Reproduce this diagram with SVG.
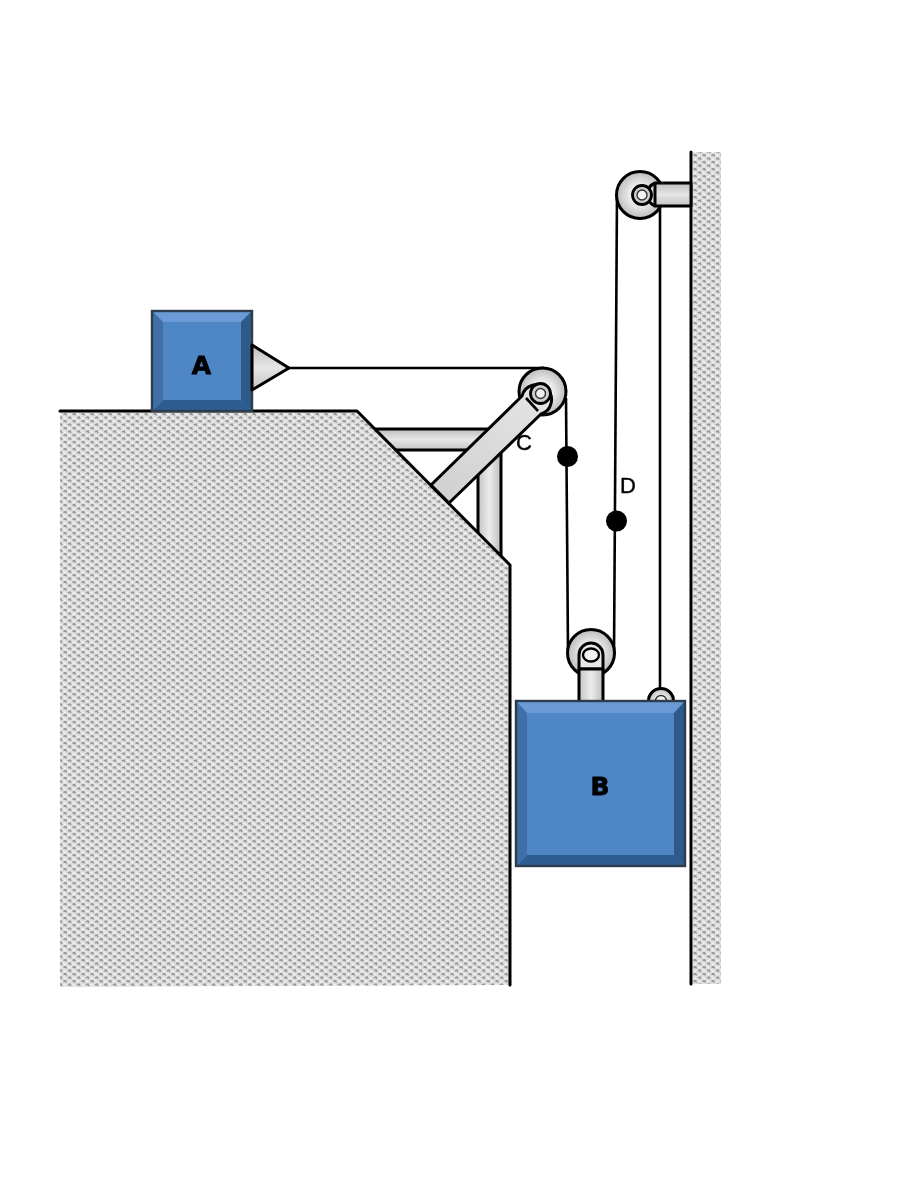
<svg xmlns="http://www.w3.org/2000/svg" width="900" height="1200" viewBox="0 0 900 1200">
<style>
.ln{stroke:#000;stroke-width:3;fill:none;stroke-linecap:round;stroke-linejoin:round}
.rope{stroke:#000;stroke-width:2.6;fill:none}
.part{fill:url(#steel);stroke:#000;stroke-width:3;stroke-linejoin:round}
.wheel{fill:url(#wheelFill);stroke:#000;stroke-width:3}
.arch{fill:#dedede;stroke:#000;stroke-width:3;stroke-linejoin:round}
.hub{fill:#cfcfcf;stroke:#000;stroke-width:2.8}
.pin{fill:#f2f2f2;stroke:#333;stroke-width:1.4}
.dot{fill:#000}
.lbl{font-family:"Liberation Sans",Arial,sans-serif;fill:#000;stroke:#000;stroke-width:0.4;text-anchor:middle}
.blk{font-family:"DejaVu Sans",sans-serif;font-weight:bold;font-size:25px;fill:#000;stroke:#000;stroke-width:0.8;text-anchor:middle}
.soft{filter:url(#soft)}
</style>
<defs>
<filter id="soft" x="-5%" y="-5%" width="110%" height="110%"><feGaussianBlur stdDeviation="0.75"/></filter>
<pattern id="hatch" width="9" height="7" patternUnits="userSpaceOnUse">
<rect width="9" height="7" fill="#dedede"/>
<path d="M0.500 1.500L2.500 0.500L3.500 2.500M5 5L7 4L8 6" stroke="#989898" stroke-width="1.600" fill="none"/>
<path d="M5 1L7.500 2M0.500 4.500L3 5.500" stroke="#f8f8f8" stroke-width="1.300" fill="none"/>
</pattern>
<linearGradient id="steel" x1="0" y1="0" x2="0" y2="1"><stop offset="0" stop-color="#bdbdbd"/><stop offset="0.5" stop-color="#e6e6e6"/><stop offset="1" stop-color="#c4c4c4"/></linearGradient>
<linearGradient id="steelV" x1="0" y1="0" x2="1" y2="0"><stop offset="0" stop-color="#c4c4c4"/><stop offset="0.5" stop-color="#ececec"/><stop offset="1" stop-color="#bdbdbd"/></linearGradient>
<linearGradient id="steelD" x1="0" y1="1" x2="1" y2="0"><stop offset="0" stop-color="#cfcfcf"/><stop offset="1" stop-color="#e6e6e6"/></linearGradient>
<radialGradient id="wheelFill"><stop offset="0.4" stop-color="#f0f0f0"/><stop offset="1" stop-color="#bcbcbc"/></radialGradient>
<clipPath id="aboveB"><rect x="630" y="670" width="60" height="32"/></clipPath>
</defs>
<rect width="900" height="1200" fill="#fff"/>

<g class="soft">
<g id="frame">
<rect x="372" y="429" width="116" height="21" class="part"/>
<rect x="478" y="449" width="23" height="110" class="part" style="fill:url(#steelV)"/>
</g>
<g id="ground">
<path d="M60 411H357L510 565V985L60 987Z" fill="url(#hatch)"/>
<path d="M60 411H357L510 565V985" class="ln"/>
</g>
<g id="wall">
<rect x="693" y="152" width="28" height="832" fill="url(#hatch)"/>
<path d="M691 152V984" class="ln"/>
</g>

<g id="connectors">
<path d="M289 368H544" class="rope"/>
<path d="M566 398L568 650" class="rope"/>
<path d="M614 655L617 195" class="rope"/>
<path d="M660 208V692" class="rope"/>
</g>

<g id="pulley-anchor"><g clip-path="url(#aboveB)">
<circle cx="661" cy="701" r="12.500" class="wheel"/>
<circle cx="661" cy="701" r="5.500" class="pin"/>
</g></g>

<g id="pulley-c">
<circle cx="542.500" cy="391.500" r="23.500" class="wheel"/>
<path d="M522 396L431 485L449 503L541 414A15 15 0 1 0 522 396Z" class="part" style="fill:url(#steelD)"/>
<path d="M526 398L538 411" stroke="#000" stroke-width="2.600"/>
<circle cx="540.500" cy="393.500" r="10" class="hub"/>
<circle cx="540.500" cy="393.500" r="5" class="pin"/>
</g>

<g id="pulley-top">
<circle cx="640" cy="195" r="23.500" class="wheel"/>
<path d="M655 183A12.500 12.500 0 0 0 655 206" class="arch"/>
<path d="M655 183H691V206H655Z" class="part"/>
<circle cx="642" cy="195" r="9.500" class="hub"/>
<circle cx="642" cy="195" r="5" class="pin"/>
</g>

<g id="pulley-b">
<circle cx="591" cy="653" r="23.500" class="wheel"/>
<path d="M579 669V655A12 12 0 0 1 603 655V669Z" class="arch" style="fill:#e8e8e8"/>
<rect x="579" y="669" width="24" height="33" class="part" style="fill:url(#steelV)"/>
<ellipse cx="591" cy="655" rx="8" ry="6.500" class="pin" style="stroke:#000;stroke-width:2.400"/>
</g>

<g id="block-a">
<rect x="152" y="311" width="100" height="100" fill="#4f86c6"/>
<path d="M152 311H252L241 322H163Z" fill="#6a9bd6"/>
<path d="M152 411H252L241 400H163Z" fill="#2f5d92"/>
<path d="M152 311V411L163 400V322Z" fill="#3f6ea6"/>
<path d="M252 311V411L241 400V322Z" fill="#2f5a8a"/>
<rect x="152" y="311" width="100" height="100" fill="none" stroke="#2e3c4e" stroke-width="2.400"/>
<text x="201.500" y="374" class="blk">A</text>
<path d="M252 345L289 368L252 390Z" class="part"/>
</g>

<g id="block-b">
<rect x="516" y="701" width="169" height="165" fill="#4f86c6"/>
<path d="M516 701H685L674 713H527Z" fill="#6a9bd6"/>
<path d="M516 866H685L674 855H527Z" fill="#2f5d92"/>
<path d="M516 701V866L527 855V713Z" fill="#3f6ea6"/>
<path d="M685 701V866L674 855V713Z" fill="#2f5a8a"/>
<rect x="516" y="701" width="169" height="165" fill="none" stroke="#2e3c4e" stroke-width="2.400"/>
<text x="600" y="795" class="blk">B</text>
</g>

<g id="point-c"><circle cx="567.500" cy="456.500" r="10.500" class="dot"/></g>
<g id="point-d"><circle cx="616.500" cy="521" r="10.500" class="dot"/></g>
<text x="524" y="450" font-size="22" class="lbl">C</text>
<text x="628" y="493" font-size="22" class="lbl">D</text>
</g>
</svg>
